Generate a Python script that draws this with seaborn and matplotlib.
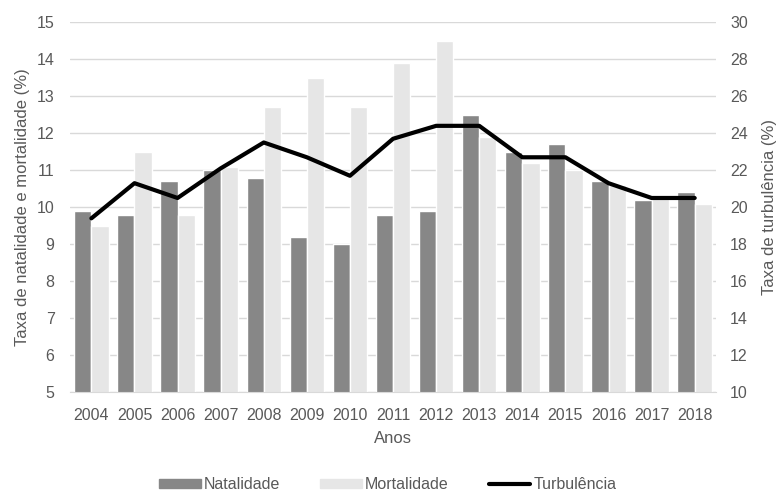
import pandas as pd
import matplotlib.pyplot as plt
import seaborn as sns
from matplotlib.patches import Patch
from matplotlib.lines import Line2D

anos = [str(a) for a in range(2004, 2019)]
natalidade = [9.9, 9.8, 10.7, 11.0, 10.8, 9.2, 9.0, 9.8, 9.9, 12.5, 11.5, 11.7, 10.7, 10.2, 10.4]
mortalidade = [9.5, 11.5, 9.8, 11.1, 12.7, 13.5, 12.7, 13.9, 14.5, 11.9, 11.2, 11.0, 10.6, 10.3, 10.1]
turbulencia = [19.4, 21.3, 20.5, 22.1, 23.5, 22.7, 21.7, 23.7, 24.4, 24.4, 22.7, 22.7, 21.3, 20.5, 20.5]

df = pd.DataFrame({"Ano": anos, "Natalidade": natalidade, "Mortalidade": mortalidade})
long = df.melt(id_vars="Ano", var_name="Serie", value_name="Taxa")

sns.set_style("white")
plt.rcParams['font.family'] = ['Liberation Sans', 'DejaVu Sans']
txt = "#595959"

fig = plt.figure(figsize=(7.76, 4.94), dpi=100)
ax = fig.add_axes([0.09, 0.206, 0.833, 0.749])

sns.barplot(data=long, x="Ano", y="Taxa", hue="Serie",
            palette={"Natalidade": "#878787", "Mortalidade": "#e6e6e6"},
            width=0.8, ax=ax, legend=False, zorder=2)
ax.set_ylim(5, 15)
ax.set_yticks(range(5, 16))
ax.set_xlim(-0.5, len(anos) - 0.5)
ax.grid(axis="y", color="#d9d9d9", linewidth=1, zorder=0)
ax.set_axisbelow(True)
for s in ["top", "left", "right"]:
    ax.spines[s].set_visible(False)
ax.spines["bottom"].set_color("#d9d9d9")
ax.tick_params(axis="both", length=0, labelsize=11.5, colors=txt, pad=11)
ax.set_xlabel("Anos", fontsize=12, color=txt, labelpad=6)
ax.set_ylabel("Taxa de natalidade e mortalidade (%)", fontsize=12, color=txt, labelpad=5)

ax2 = ax.twinx()
sns.lineplot(x=list(range(len(anos))), y=turbulencia, color="black", linewidth=3, ax=ax2, zorder=3)
ax2.set_ylim(10, 30)
ax2.set_yticks(range(10, 31, 2))
for s in ["top", "left", "right", "bottom"]:
    ax2.spines[s].set_visible(False)
ax2.tick_params(axis="y", length=0, labelsize=11.5, colors=txt, pad=10)
ax2.set_ylabel("Taxa de turbulência (%)", fontsize=12, color=txt, labelpad=10)

handles = [Patch(color="#878787", label="Natalidade"),
           Patch(color="#e6e6e6", label="Mortalidade"),
           Line2D([0], [0], color="black", linewidth=3, label="Turbulência")]
leg = fig.legend(handles=handles, loc="lower center", bbox_to_anchor=(0.5, -0.025), ncol=3,
                 frameon=False, fontsize=11.5, handlelength=2.6, handleheight=0.5,
                 handletextpad=0.2, columnspacing=2.5)
for t in leg.get_texts():
    t.set_color(txt)

fig.savefig("out.png", dpi=100)
